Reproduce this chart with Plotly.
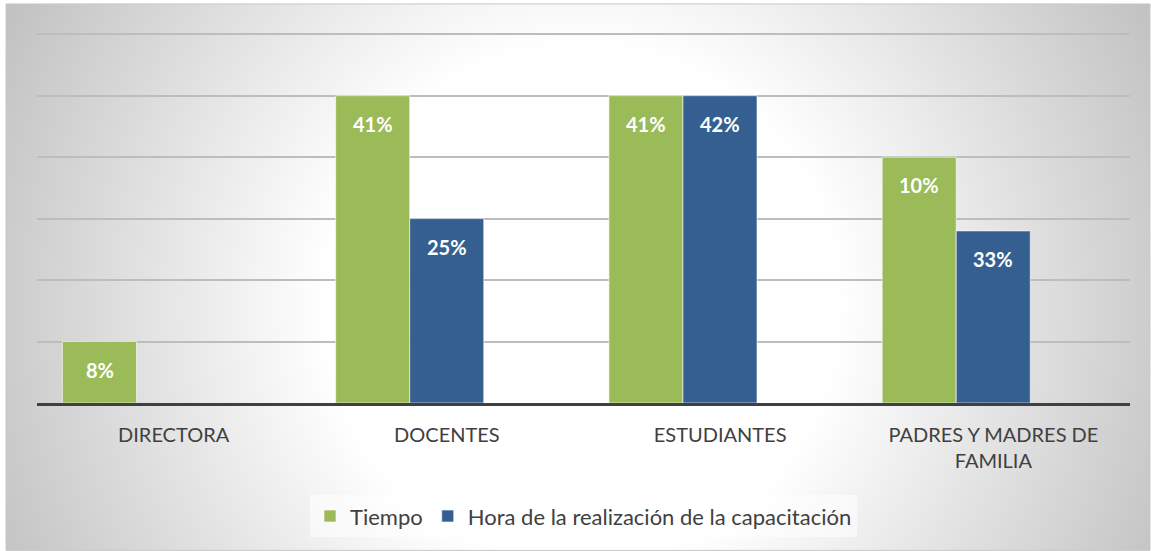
import plotly.graph_objects as go
import urllib.parse

categories = ["DIRECTORA", "DOCENTES", "ESTUDIANTES", "PADRES Y MADRES DE<br>FAMILIA"]
series_names = ["Tiempo", "Hora de la realización de la capacitación"]
tiempo_values = [1, 5, 5, 4]
hora_values = [None, 3, 5, 2.8]
tiempo_labels = ["8%", "41%", "41%", "10%"]
hora_labels = ["", "25%", "42%", "33%"]

GREEN = "#9BBB59"
BLUE = "#355F91"
FONT = "Lato, 'Open Sans', sans-serif"
BAR_W = 0.271

fig = go.Figure()
fig.add_trace(go.Bar(x=categories, y=tiempo_values, name=series_names[0],
                     width=BAR_W, offset=-0.407,
                     marker=dict(color=GREEN, line=dict(color="rgba(255,255,255,0.6)", width=1))))
fig.add_trace(go.Bar(x=categories, y=hora_values, name=series_names[1],
                     width=BAR_W, offset=-0.136,
                     marker=dict(color=BLUE, line=dict(color="rgba(255,255,255,0.6)", width=1))))

for i, c in enumerate(categories):
    for vals, labs, shift in ((tiempo_values, tiempo_labels, -74), (hora_values, hora_labels, 0)):
        if vals[i] is None or not labs[i]:
            continue
        fig.add_annotation(x=c, y=vals[i], text="<b>" + labs[i] + "</b>", showarrow=False,
                           xshift=shift, yshift=-28, font=dict(family=FONT, size=20, color="white"))

svg = ('<svg xmlns="http://www.w3.org/2000/svg" width="1144" height="545" preserveAspectRatio="none">'
       '<defs><radialGradient id="g" cx="575" cy="300" r="640" gradientUnits="userSpaceOnUse">'
       '<stop offset="0" stop-color="#ffffff"/><stop offset="0.4" stop-color="#ffffff"/>'
       '<stop offset="1" stop-color="#c2c2c2"/></radialGradient></defs>'
       '<rect width="1144" height="545" fill="url(#g)"/></svg>')
src = "data:image/svg+xml;charset=utf-8," + urllib.parse.quote(svg)

pw, ph = 1093, 369
fig.add_layout_image(source=src, xref="paper", yref="paper",
                     x=-31 / pw, y=1 + 29 / ph, sizex=1144 / pw, sizey=545 / ph,
                     sizing="stretch", layer="below", xanchor="left", yanchor="top")
fig.add_shape(type="rect", xref="paper", yref="paper", x0=-31 / pw, x1=1113 / pw,
              y0=-147 / ph, y1=1 + 29 / ph, line=dict(color="#c8c8c8", width=1), layer="below")

fig.update_layout(
    width=1151, height=551,
    margin=dict(l=37, r=21, t=33, b=148),
    paper_bgcolor="white", plot_bgcolor="rgba(0,0,0,0)",
    barmode="overlay",
    font=dict(family=FONT, size=20, color="#404040"),
    showlegend=True,
    legend=dict(orientation="h", x=0.5, xanchor="center", y=-0.306, yanchor="middle",
                bgcolor="rgba(255,255,255,0.55)", font=dict(size=22, color="#404040"),
                itemwidth=30, traceorder="normal"),
    xaxis=dict(showgrid=False, showline=True, linecolor="#404040", linewidth=3,
               ticks="", ticklabelstandoff=12, tickfont=dict(size=20, color="#404040")),
    yaxis=dict(range=[0, 6.02], dtick=1, showticklabels=False, showgrid=True,
               gridcolor="#bdbdbd", gridwidth=1.5, zeroline=False, showline=False),
)

fig.write_html("out.html", config={"displayModeBar": False},
               post_script="document.body.style.margin='0';")
